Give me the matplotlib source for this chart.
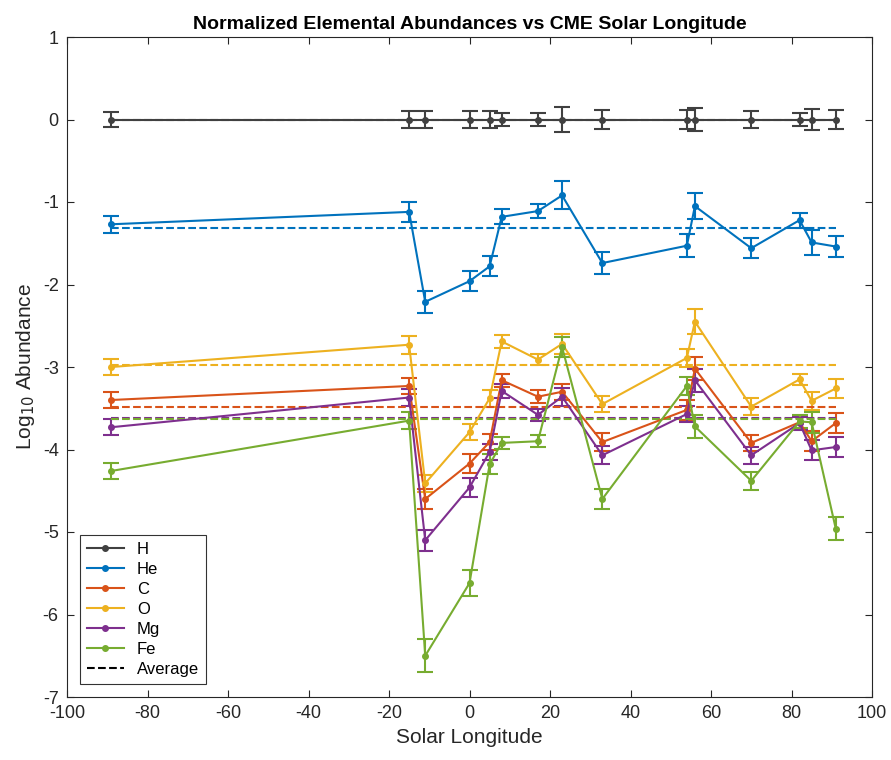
import numpy as np
import matplotlib.pyplot as plt

plt.rcParams['font.family'] = ['Liberation Sans', 'DejaVu Sans']
plt.rcParams['axes.unicode_minus'] = False

#data
lon = [-89, -15, -11, 0, 5, 8, 17, 23, 33, 54, 56, 70, 82, 85, 91]
names = ['H', 'He', 'C', 'O', 'Mg', 'Fe']
vals = {
    'H':  [0, 0, 0, 0, 0, 0, 0, 0, 0, 0, 0, 0, 0, 0, 0],
    'He': [-1.27, -1.12, -2.21, -1.96, -1.78, -1.18, -1.11, -0.92, -1.74, -1.53, -1.05, -1.56, -1.22, -1.49, -1.54],
    'C':  [-3.40, -3.23, -4.60, -4.17, -3.91, -3.16, -3.36, -3.30, -3.91, -3.52, -3.02, -3.92, -3.67, -3.90, -3.68],
    'O':  [-3.00, -2.73, -4.41, -3.79, -3.38, -2.69, -2.91, -2.72, -3.45, -2.89, -2.45, -3.48, -3.15, -3.41, -3.26],
    'Mg': [-3.73, -3.37, -5.10, -4.46, -4.03, -3.29, -3.58, -3.36, -4.07, -3.57, -3.16, -4.07, -3.68, -4.01, -3.97],
    'Fe': [-4.26, -3.65, -6.50, -5.62, -4.18, -3.92, -3.90, -2.76, -4.60, -3.23, -3.72, -4.38, -3.66, -3.67, -4.96],
}
errs = {
    'H':  [0.09, 0.10, 0.10, 0.10, 0.10, 0.08, 0.08, 0.15, 0.11, 0.12, 0.14, 0.10, 0.08, 0.13, 0.11],
    'He': [0.10, 0.12, 0.13, 0.12, 0.12, 0.09, 0.08, 0.17, 0.13, 0.14, 0.16, 0.12, 0.09, 0.15, 0.13],
    'C':  [0.10, 0.10, 0.12, 0.12, 0.10, 0.08, 0.08, 0.10, 0.11, 0.12, 0.14, 0.10, 0.08, 0.12, 0.12],
    'O':  [0.10, 0.11, 0.10, 0.10, 0.10, 0.08, 0.07, 0.12, 0.10, 0.11, 0.15, 0.10, 0.07, 0.11, 0.11],
    'Mg': [0.10, 0.10, 0.13, 0.12, 0.10, 0.08, 0.07, 0.11, 0.11, 0.10, 0.14, 0.10, 0.08, 0.12, 0.12],
    'Fe': [0.10, 0.10, 0.20, 0.16, 0.12, 0.07, 0.07, 0.12, 0.12, 0.11, 0.14, 0.11, 0.08, 0.13, 0.14],
}
avgs = {'H': 0.0, 'He': -1.32, 'C': -3.48, 'O': -2.98, 'Mg': -3.62, 'Fe': -3.63}
colors = {'H': '#404040', 'He': '#0072BD', 'C': '#D95319', 'O': '#EDB120',
          'Mg': '#7E2F8E', 'Fe': '#77AC30'}

#%%
fig = plt.figure(figsize=(8.91, 7.6), dpi=100)
ax = fig.add_axes([67/891, 63/760, 805/891, 660/760])

handles = []
for n in names:
    h = ax.errorbar(lon, vals[n], yerr=errs[n], color=colors[n], marker='o', ms=4,
                    lw=1.5, elinewidth=1.5, capsize=6, capthick=1.5)
    handles.append(h[0])
for n in names:
    ax.plot([lon[0], lon[-1]], [avgs[n]] * 2, '--', color=colors[n], lw=1.5)
avg_line, = ax.plot([], [], 'k--', lw=1.5)
handles.append(avg_line)

ax.set_xlim(-100, 100)
ax.set_ylim(-7, 1)
ax.set_xticks(range(-100, 101, 20))
ax.set_yticks(range(-7, 2))
for s in ax.spines.values():
    s.set_color('#262626')
ax.tick_params(direction='in', top=True, right=True, labelsize=13, length=5,
               pad=6, colors='#262626')
ax.set_xlabel('Solar Longitude', fontsize=15, color='#262626')
ax.set_ylabel('Log$_{10}$ Abundance', fontsize=15, color='#262626')
ax.set_title('Normalized Elemental Abundances vs CME Solar Longitude', fontsize=14,
             fontweight='bold')
leg = ax.legend(handles, names + ['Average'], loc='lower left', fontsize=12,
                fancybox=False, edgecolor='black', borderaxespad=0.8,
                handlelength=2.2, labelspacing=0.3)
leg.get_frame().set_linewidth(0.8)
plt.savefig('out.png')
